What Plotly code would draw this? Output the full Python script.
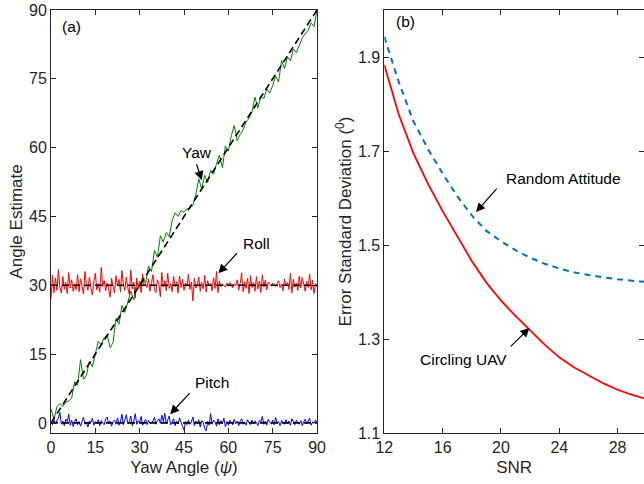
import numpy as np
import plotly.graph_objects as go

# ---------------- data: panel (a) ----------------
x_fine = [i * 0.5 for i in range(181)]
x_yaw = list(range(91))

roll = [
    27.0, 32.2, 28.4, 31.6, 28.9, 33.4, 29.6, 28.3, 31.9, 29.1, 30.6, 28.2, 32.8, 29.4, 31.2, 28.7, 30.3, 29.0, 32.3, 28.6,
    31.4, 29.3, 28.1, 33.0, 30.2, 28.9, 31.7, 29.5, 27.9, 30.8, 32.6, 29.0, 30.4, 28.5, 33.9, 29.7, 31.0, 28.8, 30.5, 29.2,
    27.4, 31.5, 29.6, 28.3, 32.1, 29.9, 31.3, 28.6, 33.2, 30.1, 28.9, 31.8, 29.4, 28.0, 33.3, 29.2, 30.7, 27.2, 31.6, 29.3,
    30.9, 28.4, 32.5, 29.8, 30.2, 29.5, 31.4, 28.7, 30.6, 32.3, 29.0, 28.4, 31.2, 30.3, 27.5, 32.8, 29.6, 31.0, 28.8, 32.6,
    29.3, 30.4, 28.6, 31.9, 29.7, 30.8, 28.3, 32.0, 29.5, 31.3, 28.9, 30.5, 29.8, 32.4, 29.1, 30.7, 26.6, 31.5, 29.4, 30.2,
    31.8, 28.7, 30.6, 29.2, 32.2, 28.5, 31.0, 29.9, 30.4, 28.8, 31.6, 29.3, 33.0, 28.4, 30.9, 29.7, 30.3, 30.0, 29.6, 30.5,
    29.8, 30.6, 30.1, 29.4, 30.3, 29.9, 31.2, 28.9, 30.4, 32.7, 28.6, 30.8, 29.3, 31.5, 28.2, 32.1, 29.5, 30.6, 28.7, 31.9,
    29.2, 30.9, 28.4, 32.3, 29.6, 31.1, 29.0, 30.7, 30.2, 29.8, 30.5, 30.1, 29.7, 30.4, 31.0, 29.5, 30.3, 28.8, 31.4, 29.9,
    30.6, 29.1, 32.6, 28.3, 31.3, 29.6, 30.5, 28.9, 32.0, 29.4, 31.7, 30.2, 28.7, 30.9, 29.5, 32.4, 29.0, 31.1, 28.2, 30.3,
    29.6,
]

pitch = [
    0.2, -0.4, 0.7, -0.2, 0.5, 1.0, 2.3, -0.3, 0.4, -0.6, 0.8, 0.3, 1.9, -0.5, 0.6, -0.8, 0.2, 0.9, -0.4, 0.3,
    -0.7, 0.5, 1.2, -0.3, 0.2, -0.9, 0.4, 0.1, 1.0, -0.5, 0.3, -0.2, 0.7, -0.6, 0.5, 0.0, -0.4, 0.9, 1.3, -0.2,
    0.4, -0.7, 0.3, 0.6, -0.3, 1.1, -0.5, 0.2, 1.9, -0.4, 0.6, 1.8, -0.2, 0.3, 1.5, -0.6, 0.4, 2.0, -0.3, 0.5,
    0.1, 1.4, -0.5, 0.3, 0.8, -0.4, 0.6, -0.2, 0.2, 0.4, 1.2, -0.3, 0.5, 0.9, -0.1, 1.7, 0.3, 2.1, -0.2, 0.6,
    1.5, -0.4, 0.3, 0.9, -0.6, 0.4, -0.2, 1.1, 0.1, -0.8, -1.5, 0.3, -0.4, 0.6, -0.3, 0.2, 1.3, -0.6, 0.4, -0.2,
    0.7, -0.9, 0.5, 0.1, -1.2, -1.7, 0.3, -0.5, 2.0, -0.3, 0.6, 0.2, -0.7, 0.9, -0.4, 0.5, -0.2, 1.0, -0.8, 0.3,
    -0.5, 0.6, 0.1, -0.4, 0.8, -0.2, 0.4, -0.6, 0.3, 0.9, -0.3, 0.2, -0.5, 0.7, 0.0, -0.4, 0.6, -0.2, 0.4, 0.1,
    -0.6, 0.5, 0.2, 1.4, -0.3, 0.4, -0.5, 0.8, 0.1, -0.2, 0.6, -0.4, 1.2, -0.1, 0.3, -0.6, 0.5, 0.2, -0.3, 0.7,
    -0.2, 0.4, -0.5, 0.9, 0.1, -0.4, 0.6, 0.0, -0.3, 0.5, -0.6, 0.3, 0.8, -0.2, 0.4, 1.0, -0.5, 0.2, -0.1, 0.6,
    0.1,
]

yaw = [
    3.0, 0.8, 3.5, 4.2, 3.6, 4.5, 4.8, 5.4, 9.0, 8.2,
    13.8, 9.5, 10.4, 13.5, 12.2, 14.8, 17.8, 17.0, 18.6, 19.2,
    16.4, 17.5, 22.8, 21.5, 25.6, 24.1, 26.3, 28.7, 26.8, 30.5,
    29.6, 31.8, 30.4, 34.2, 33.0, 37.6, 36.1, 40.8, 39.4, 41.5,
    40.6, 44.2, 45.8, 45.0, 46.3, 45.9, 46.6, 46.8, 47.4, 49.8,
    53.2, 50.9, 54.0, 52.4, 55.1, 54.2, 56.5, 58.4, 55.6, 60.4,
    59.2, 62.6, 64.8, 61.5, 62.9, 63.9, 65.6, 66.4, 67.8, 71.0,
    68.6, 71.3, 70.7, 72.8, 71.9, 73.5, 75.6, 74.3, 79.0, 77.2,
    79.8, 78.9, 81.5, 80.7, 82.3, 83.9, 84.8, 85.6, 87.2, 86.4,
    90.0,
]

true_x = [0, 90]
true_yaw = [0, 90]
true_roll = [30, 30]
true_pitch = [0, 0]

# ---------------- data: panel (b) ----------------
snr = list(range(12, 31))
circling_uav = [1.883, 1.777, 1.695, 1.630, 1.572, 1.518, 1.466, 1.420, 1.382, 1.349,
                1.318, 1.288, 1.261, 1.240, 1.223, 1.206, 1.192, 1.181, 1.172]
random_attitude = [1.943, 1.846, 1.763, 1.704, 1.652, 1.604, 1.563, 1.530, 1.508, 1.489,
                   1.473, 1.460, 1.450, 1.442, 1.436, 1.431, 1.427, 1.424, 1.421]

ticks_a = [0, 15, 30, 45, 60, 75, 90]
ticks_bx = [12, 16, 20, 24, 28]
ticks_by = [1.1, 1.3, 1.5, 1.7, 1.9]

AX = "#262626"
FONT = "Liberation Sans, Arial, Helvetica, sans-serif"

fig = go.Figure()

# panel (a)
fig.add_trace(go.Scatter(x=x_yaw, y=yaw, mode="lines", line=dict(color="#008000", width=1), xaxis="x", yaxis="y"))
fig.add_trace(go.Scatter(x=x_fine, y=roll, mode="lines", line=dict(color="#ff0000", width=1), xaxis="x", yaxis="y"))
fig.add_trace(go.Scatter(x=x_fine, y=pitch, mode="lines", line=dict(color="#0000ff", width=1), xaxis="x", yaxis="y"))
for ty in (true_yaw, true_roll, true_pitch):
    fig.add_trace(go.Scatter(x=true_x, y=ty, mode="lines", line=dict(color="black", width=1.6, dash="7px,4px"),
                             xaxis="x", yaxis="y"))

# panel (b)
fig.add_trace(go.Scatter(x=snr, y=random_attitude, mode="lines", line=dict(color="#0072bd", width=2, dash="6px,5px"),
                         xaxis="x2", yaxis="y2"))
fig.add_trace(go.Scatter(x=snr, y=circling_uav, mode="lines", line=dict(color="#ff0000", width=1.8),
                         xaxis="x2", yaxis="y2"))
# dummy trace for the right-side tick axis
fig.add_trace(go.Scatter(x=[None], y=[None], mode="lines", xaxis="x2", yaxis="y3", hoverinfo="skip"))

common = dict(showline=True, linecolor=AX, linewidth=1, ticks="inside", ticklen=5, tickcolor=AX,
              showgrid=False, zeroline=False, automargin=False,
              tickfont=dict(family=FONT, size=16, color=AX))
title_font = dict(family=FONT, size=17, color=AX)

fig.update_layout(
    template="none",
    width=644, height=484, showlegend=False,
    paper_bgcolor="white", plot_bgcolor="white",
    margin=dict(l=51, r=0, t=10, b=51, pad=0),
    font=dict(family=FONT, color=AX),
    xaxis=dict(domain=[0, 0.4486], range=[0, 90], tickvals=ticks_a, mirror="ticks", anchor="y",
               title=dict(text="Yaw Angle (<i>ψ</i>)", font=title_font, standoff=5), **common),
    yaxis=dict(domain=[0, 1], range=[-2.2, 90], tickvals=ticks_a, mirror="ticks", anchor="x",
               title=dict(text="Angle Estimate", font=title_font, standoff=2), **common),
    xaxis2=dict(domain=[0.5621, 1], range=[12, 29.81], tickvals=ticks_bx, mirror="ticks", anchor="y2",
                title=dict(text="SNR", font=title_font, standoff=5), **common),
    yaxis2=dict(domain=[0, 1], range=[1.1, 2.0], tickvals=ticks_by, tickformat=".1f", mirror=False, anchor="x2",
                title=dict(text="Error Standard Deviation (<sup>0</sup>)", font=title_font, standoff=1),
                **common),
    yaxis3=dict(overlaying="y2", side="right", anchor="x2", range=[1.1, 2.0], tickvals=ticks_by,
                showticklabels=False, showline=False, ticks="inside", ticklen=5, tickcolor=AX,
                showgrid=False, zeroline=False, automargin=False),
)

ann_font = dict(family=FONT, size=15.5, color="black")
annotations = [
    dict(x=3.0, y=86.3, xref="x", yref="y", text="(a)", showarrow=False, xanchor="left", font=ann_font),
    dict(x=49.4, y=58.9, xref="x", yref="y", text="Yaw", showarrow=False, font=ann_font),
    dict(x=69.4, y=39.2, xref="x", yref="y", text="Roll", showarrow=False, font=ann_font),
    dict(x=54.6, y=8.9, xref="x", yref="y", text="Pitch", showarrow=False, font=ann_font),
    dict(x=13.48, y=1.975, xref="x2", yref="y2", text="(b)", showarrow=False, font=ann_font),
    dict(x=24.26, y=1.642, xref="x2", yref="y2", text="Random Attitude", showarrow=False, font=ann_font),
    dict(x=17.4, y=1.257, xref="x2", yref="y2", text="Circling UAV", showarrow=False, font=ann_font),
]
arrows = [
    ("x", "y", 51.0, 52.9, 49.1, 56.7),
    ("x", "y", 56.6, 32.6, 63.4, 37.3),
    ("x", "y", 40.3, 1.9, 47.4, 6.8),
    ("x2", "y2", 18.29, 1.570, 19.8, 1.623),
    ("x2", "y2", 21.95, 1.3235, 20.57, 1.281),
]
for xr, yr, hx, hy, tx, ty in arrows:
    annotations.append(dict(x=hx, y=hy, ax=tx, ay=ty, xref=xr, yref=yr, axref=xr, ayref=yr, text="",
                            showarrow=True, arrowhead=2, arrowsize=1.5, arrowwidth=1.2, arrowcolor="black"))
fig.update_layout(annotations=annotations)

fig.write_html("out.html", config={"displayModeBar": False},
               post_script="document.body.style.margin='0';document.body.style.overflow='hidden';")
